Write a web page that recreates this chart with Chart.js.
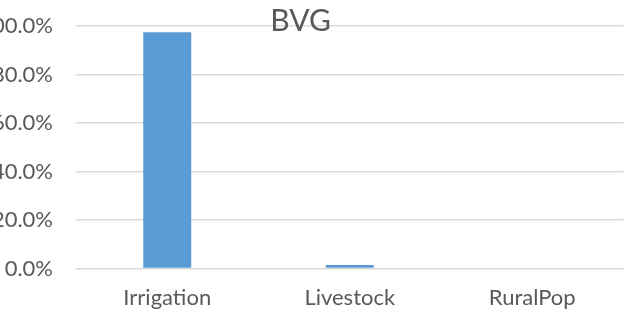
<!DOCTYPE html>
<html>
<head>
<meta charset="utf-8">
<script src="https://cdn.jsdelivr.net/npm/chart.js@4/dist/chart.umd.min.js"></script>
<style>
  html, body { margin: 0; padding: 0; background: #ffffff; }
  #wrap { width: 628px; height: 325px; position: relative; }
</style>
</head>
<body>
<div id="wrap"><canvas id="c"></canvas></div>
<script>
// Share of water use by sector for BVG
const categories = ['Irrigation', 'Livestock', 'RuralPop'];
const shareValues = [0.974, 0.014, 0.0];
const yTickValues = [0, 0.2, 0.4, 0.6, 0.8, 1.0];
const chartTitle = 'BVG';

const FONT = 'Lato, "Open Sans", sans-serif';
const TEXT = '#595959';

// Title drawn on top of the plot, slightly left of centre
const titlePlugin = {
  id: 'overTitle',
  afterDraw(chart) {
    const ctx = chart.ctx;
    ctx.save();
    ctx.font = '30px ' + FONT;
    ctx.fillStyle = TEXT;
    ctx.textAlign = 'center';
    ctx.textBaseline = 'alphabetic';
    ctx.fillText(chartTitle, 300.5, 30.5);
    ctx.restore();
  }
};

new Chart(document.getElementById('c'), {
  type: 'bar',
  data: {
    labels: categories,
    datasets: [{
      data: shareValues,
      backgroundColor: '#5B9BD5',
      borderWidth: 0,
      barPercentage: 0.263,
      categoryPercentage: 1.0
    }]
  },
  options: {
    responsive: true,
    maintainAspectRatio: false,
    animation: false,
    layout: { padding: { top: 26, right: 4.5, bottom: 0, left: 0 } },
    plugins: {
      legend: { display: false },
      title: { display: false },
      tooltip: { enabled: false }
    },
    scales: {
      x: {
        grid: { display: false, drawTicks: false },
        border: { display: false },
        ticks: {
          color: TEXT,
          font: { family: FONT, size: 22 },
          padding: 16,
          maxRotation: 0
        },
        afterFit(scale) { scale.height = 56.5; }
      },
      y: {
        min: 0,
        max: 1,
        afterBuildTicks(scale) {
          scale.ticks = yTickValues.map(v => ({ value: v }));
        },
        // invisible tick marks make the gap between labels and plot
        grid: {
          color: '#d9d9d9',
          lineWidth: 1.5,
          drawTicks: true,
          tickLength: 23,
          tickColor: 'rgba(0,0,0,0)'
        },
        border: { display: false },
        ticks: {
          color: TEXT,
          font: { family: FONT, size: 22 },
          padding: 0,
          callback: v => (v * 100).toFixed(1) + '%'
        },
        afterFit(scale) { scale.width = 76; }
      }
    }
  },
  plugins: [titlePlugin]
});
</script>
</body>
</html>
